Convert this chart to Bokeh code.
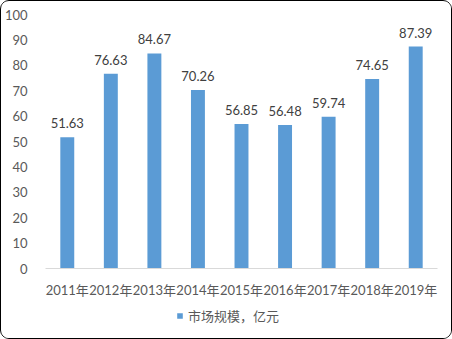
from bokeh.plotting import figure
from bokeh.layouts import column
from bokeh.models import ColumnDataSource, LabelSet, Legend, LegendItem, Range1d, FixedTicker
from bokeh.core.properties import value
from bokeh.embed import file_html
from bokeh.resources import INLINE

years = ["2011年", "2012年", "2013年", "2014年", "2015年", "2016年", "2017年", "2018年", "2019年"]
values = [51.63, 76.63, 84.67, 70.26, 56.85, 56.48, 59.74, 74.65, 87.39]
labels = ["51.63", "76.63", "84.67", "70.26", "56.85", "56.48", "59.74", "74.65", "87.39"]
series_name = "市场规模，亿元"
y_ticks = [0, 10, 20, 30, 40, 50, 60, 70, 80, 90, 100]

FONT = "Lato, 'Noto Sans CJK SC'"
TXT = "#595959"
BAR = "#5B9BD5"

src = ColumnDataSource(dict(x=years, top=values, label=labels))

p = figure(x_range=years, y_range=Range1d(0, 100), width=450, height=300,
           output_backend="svg", toolbar_location=None,
           min_border_left=41, min_border_right=14, min_border_top=13, min_border_bottom=33)
p.outline_line_color = None
p.xgrid.grid_line_color = None
p.ygrid.grid_line_color = None
p.background_fill_color = "white"
p.border_fill_color = "white"

r = p.vbar(x="x", top="top", width=0.32, source=src, fill_color=BAR, line_color=None)

p.yaxis.ticker = FixedTicker(ticks=y_ticks)
p.yaxis.axis_line_color = None
p.yaxis.major_tick_line_color = None
p.yaxis.minor_tick_line_color = None
p.yaxis.major_label_text_font = FONT
p.yaxis.major_label_text_font_size = "13px"
p.yaxis.major_label_text_color = TXT
p.yaxis.major_label_standoff = 12

p.xaxis.axis_line_color = "#D9D9D9"
p.xaxis.major_tick_line_color = None
p.xaxis.minor_tick_line_color = None
p.xaxis.major_label_text_font = FONT
p.xaxis.major_label_text_font_size = "13px"
p.xaxis.major_label_text_color = TXT
p.xaxis.major_label_standoff = 7

lbl = LabelSet(x="x", y="top", text="label", source=src, text_align="center",
               text_baseline="bottom", y_offset=9, text_font=value(FONT),
               text_font_size="13px", text_color="#404040")
p.add_layout(lbl)

# legend strip
p2 = figure(width=450, height=37, x_range=Range1d(0, 1), y_range=Range1d(0, 1),
            output_backend="svg", toolbar_location=None,
            min_border_left=0, min_border_right=0, min_border_top=0, min_border_bottom=0)
p2.axis.visible = False
p2.grid.visible = False
p2.outline_line_color = None
p2.background_fill_color = "white"
p2.border_fill_color = "white"
r2 = p2.quad(left=[-5], right=[-4], top=[-5], bottom=[-6], fill_color=BAR, line_color=None)
legend = Legend(items=[LegendItem(label=series_name, renderers=[r2])],
                orientation="horizontal", location=(131, 13),
                label_text_font=FONT, label_text_font_size="13px", label_text_color=TXT,
                glyph_width=7, glyph_height=7, border_line_color=None,
                background_fill_alpha=0, padding=0, margin=0, label_standoff=5,
                label_height=20)
p2.add_layout(legend)

layout = column(p, p2, spacing=0,
                styles={"border": "1px solid black", "border-radius": "9px",
                        "overflow": "hidden", "background-color": "white"})

open("out.html", "w").write(file_html(layout, INLINE))
